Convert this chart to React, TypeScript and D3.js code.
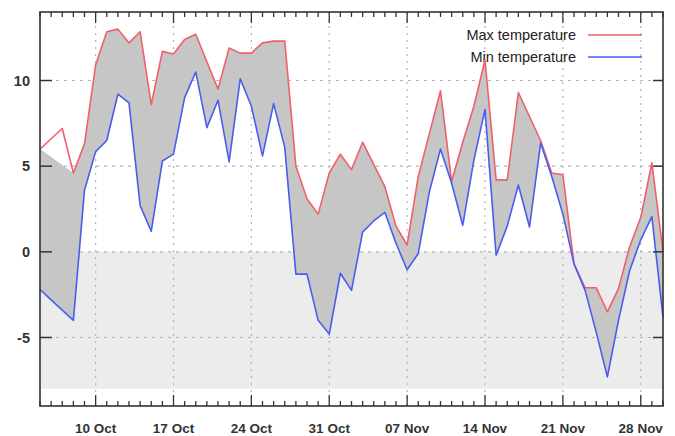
import React from "react";
import * as d3 from "d3";

const START = new Date(2012, 9, 5);
const END = new Date(2012, 10, 30);

const maxTemp = [
  6.0, 6.6, 7.2, 4.6, 6.3, 10.9, 12.85, 13.0, 12.2, 12.85, 8.6, 11.7, 11.55, 12.4, 12.7,
  11.1, 9.5, 11.9, 11.6, 11.6, 12.2, 12.3, 12.3, 5.0, 3.1, 2.2, 4.6, 5.7, 4.8, 6.4,
  5.1, 3.8, 1.5, 0.4, 4.4, 6.9, 9.4, 4.1, 6.4, 8.5, 11.2, 4.2, 4.2, 9.3, 7.9,
  6.5, 4.6, 4.5, -0.7, -2.1, -2.1, -3.5, -2.15, 0.3, 2.0, 5.2, 0.0,
];
const minTemp = [
  -2.2, -2.8, -3.4, -4.0, 3.6, 5.85, 6.5, 9.2, 8.7, 2.7, 1.2, 5.3, 5.7, 9.0, 10.5,
  7.25, 8.85, 5.25, 10.1, 8.5, 5.6, 8.65, 6.1, -1.3, -1.3, -4.0, -4.8, -1.25, -2.25, 1.15,
  1.8, 2.3, 0.5, -1.05, -0.1, 3.5, 6.0, 4.0, 1.55, 5.35, 8.3, -0.2, 1.5, 3.9, 1.45,
  6.35, 4.4, 2.2, -0.7, -2.25, -4.7, -7.3, -4.0, -1.1, 0.7, 2.05, -3.8,
];
// indices of max values missing from the filled band (as in the original plot)
const fillMaxGaps = [1, 2];
const yTicks = [-5, 0, 5, 10];
const xTickLabels = ["10 Oct", "17 Oct", "24 Oct", "31 Oct", "07 Nov", "14 Nov", "21 Nov", "28 Nov"];
const xTickDates = [
  new Date(2012, 9, 10), new Date(2012, 9, 17), new Date(2012, 9, 24), new Date(2012, 9, 31),
  new Date(2012, 10, 7), new Date(2012, 10, 14), new Date(2012, 10, 21), new Date(2012, 10, 28),
];
const bandRange = [0, -8];
const legendLabels = ["Max temperature", "Min temperature"];

const W = 675, H = 436;
const L = 40, R = 663, T = 12, B = 406;
const RED = "#f0606a";
const BLUE = "#4a5cf0";

export default function App() {
  const x = d3.scaleTime().domain([START, END]).range([L, R]);
  const y = d3.scaleLinear().domain([-9, 14]).range([B, T]);
  const days = maxTemp.map((_, i) => d3.timeDay.offset(START, i));

  const line = d3.line<[Date, number]>().x((d) => x(d[0])).y((d) => y(d[1]));
  const maxPts = days.map((d, i) => [d, maxTemp[i]] as [Date, number]);
  const minPts = days.map((d, i) => [d, minTemp[i]] as [Date, number]);
  const fillTop = maxPts.filter((_, i) => !fillMaxGaps.includes(i));
  const fillPoly = d3.line<[Date, number]>().x((d) => x(d[0])).y((d) => y(d[1]))(
    [...fillTop, ...minPts.slice().reverse()]
  ) + "Z";

  const allDays = d3.timeDay.range(START, d3.timeDay.offset(END, 1));
  const isMajor = (d: Date) => xTickDates.some((t) => +t === +d);

  const font = "'Liberation Sans', Arial, sans-serif";

  return (
    <svg width={W} height={H} style={{ position: "absolute", left: 0, top: 0, background: "#fff" }}>
      <rect x={0} y={0} width={W} height={H} fill="#fff" />
      {/* light band below zero */}
      <rect x={L + 1} y={y(bandRange[0])} width={R - L - 1} height={y(bandRange[1]) - y(bandRange[0])} fill="#ececec" />
      {/* grid */}
      {xTickDates.map((d, i) => (
        <line key={"gx" + i} x1={x(d)} x2={x(d)} y1={T} y2={B} stroke="#b4b4b4" strokeWidth={1.2} strokeDasharray="2,5" />
      ))}
      {yTicks.map((v) => (
        <line key={"gy" + v} x1={L} x2={R} y1={y(v)} y2={y(v)} stroke="#b4b4b4" strokeWidth={1.2} strokeDasharray="3,5" />
      ))}
      {/* fill between */}
      <path d={fillPoly} fill="#c6c6c6" stroke="none" />
      {/* legend */}
      {legendLabels.map((lab, i) => (
        <g key={lab}>
          <text x={576} y={35 + i * 22} dy="0.35em" textAnchor="end" fontFamily={font} fontSize={14.5} fill="#222">
            {lab}
          </text>
          <line x1={588} x2={642} y1={35 + i * 22} y2={35 + i * 22} stroke={i === 0 ? RED : BLUE} strokeWidth={1.6} />
        </g>
      ))}
      {/* lines */}
      <path d={line(maxPts) || ""} fill="none" stroke={RED} strokeWidth={1.6} strokeLinejoin="round" />
      <path d={line(minPts) || ""} fill="none" stroke={BLUE} strokeWidth={1.6} strokeLinejoin="round" />
      {/* frame */}
      <rect x={L} y={T} width={R - L} height={B - T} fill="none" stroke="#333" strokeWidth={1.6} />
      {/* x ticks */}
      {allDays.map((d, i) => {
        const len = isMajor(d) ? 11 : 5;
        return (
          <g key={"xt" + i}>
            <line x1={x(d)} x2={x(d)} y1={B} y2={B - len} stroke="#333" strokeWidth={1.3} />
            <line x1={x(d)} x2={x(d)} y1={T} y2={T + len} stroke="#333" strokeWidth={1.3} />
          </g>
        );
      })}
      {xTickDates.map((d, i) => (
        <text key={"xl" + i} x={x(d)} y={428} dy="0.35em" textAnchor="middle" fontFamily={font} fontWeight="bold" fontSize={13.5} fill="#333">
          {xTickLabels[i]}
        </text>
      ))}
      {/* y ticks */}
      {yTicks.map((v) => (
        <g key={"yt" + v}>
          <line x1={L} x2={L + 12} y1={y(v)} y2={y(v)} stroke="#333" strokeWidth={1.5} />
          <line x1={R} x2={R - 10} y1={y(v)} y2={y(v)} stroke="#333" strokeWidth={1.5} />
          <text x={30} y={y(v)} dy="0.35em" textAnchor="end" fontFamily={font} fontWeight="bold" fontSize={14.5} fill="#333">
            {v}
          </text>
        </g>
      ))}
    </svg>
  );
}
